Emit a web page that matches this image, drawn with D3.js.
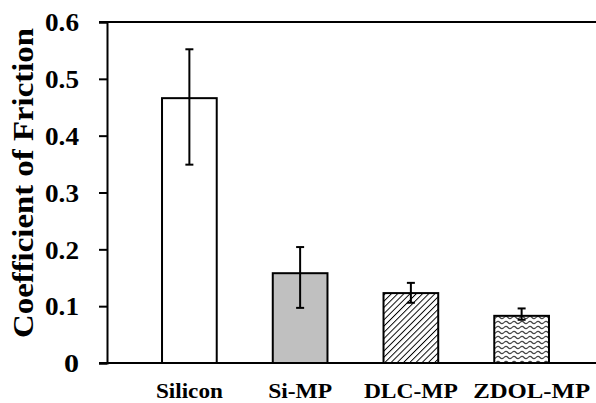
<!DOCTYPE html>
<html><head><meta charset="utf-8">
<script src="https://cdnjs.cloudflare.com/ajax/libs/d3/7.8.5/d3.min.js"></script>
<style>html,body{margin:0;padding:0;background:#fff;}svg{display:block;}</style>
</head><body>
<svg id="c" width="596" height="403"></svg>
<script>
const categories = ["Silicon", "Si-MP", "DLC-MP", "ZDOL-MP"];
const means = [0.466, 0.158, 0.123, 0.083];
const errLow = [0.349, 0.097, 0.106, 0.076];
const errHigh = [0.552, 0.204, 0.141, 0.096];
const yTicks = [0, 0.1, 0.2, 0.3, 0.4, 0.5, 0.6];
const yTickLabels = ["0", "0.1", "0.2", "0.3", "0.4", "0.5", "0.6"];
const fills = ["white", "#c0c0c0", "url(#hatch)", "url(#wave)"];
const yTitle = "Coefficient of Friction";

const svg = d3.select("#c");
const font = "Liberation Serif";

const defs = svg.append("defs");
const hatch = defs.append("pattern").attr("id","hatch").attr("patternUnits","userSpaceOnUse")
  .attr("width",4.4).attr("height",4.4).attr("patternTransform","rotate(45)");
hatch.append("rect").attr("width",4.4).attr("height",4.4).attr("fill","white");
hatch.append("line").attr("x1",0).attr("y1",0).attr("x2",0).attr("y2",4.4)
  .attr("stroke","black").attr("stroke-width",1.9);
const wave = defs.append("pattern").attr("id","wave").attr("patternUnits","userSpaceOnUse")
  .attr("width",8).attr("height",5);
wave.append("rect").attr("width",8).attr("height",5).attr("fill","white");
wave.append("path").attr("d","M0,2.5 Q2,0.3 4,2.5 T8,2.5").attr("fill","none")
  .attr("stroke","#444").attr("stroke-width",1.2);

const y = d3.scaleLinear().domain([0, 0.6]).range([363, 22]);
const x = d3.scaleBand().domain(categories).range([134, 577]).paddingInner(0.506).paddingOuter(0.253);

// frame line at top
svg.append("line").attr("x1",99).attr("x2",596).attr("y1",y(0.6)).attr("y2",y(0.6))
  .attr("stroke","black").attr("stroke-width",2);

// y axis
const yAxis = d3.axisLeft(y).tickValues(yTicks).tickSize(8).tickPadding(20)
  .tickFormat((d,i)=>yTickLabels[i]);
const ga = svg.append("g").attr("transform","translate(107,0)").call(yAxis);
ga.select(".domain").attr("stroke","black").attr("stroke-width",2);
ga.selectAll(".tick line").attr("stroke","black").attr("stroke-width",2);
ga.selectAll(".tick text").attr("font-family",font).attr("font-weight","bold")
  .attr("font-size",25.5).attr("fill","black").attr("dy","0.34em")
  .attr("textLength",(d,i)=>yTickLabels[i].length>1?34:15).attr("lengthAdjust","spacingAndGlyphs");

// bars
svg.selectAll("rect.bar").data(categories).enter().append("rect").attr("class","bar")
  .attr("x", d=>x(d)).attr("width", x.bandwidth())
  .attr("y", (d,i)=>y(means[i])).attr("height",(d,i)=>y(0)-y(means[i]))
  .attr("fill",(d,i)=>fills[i]).attr("stroke","black").attr("stroke-width",2);

// error bars
const eb = svg.append("g").attr("stroke","black").attr("stroke-width",2);
categories.forEach((c,i)=>{
  const cx = x(c)+x.bandwidth()/2;
  eb.append("line").attr("x1",cx).attr("x2",cx).attr("y1",y(errLow[i])).attr("y2",y(errHigh[i]));
  eb.append("line").attr("x1",cx-4).attr("x2",cx+4).attr("y1",y(errLow[i])).attr("y2",y(errLow[i]));
  eb.append("line").attr("x1",cx-4).attr("x2",cx+4).attr("y1",y(errHigh[i])).attr("y2",y(errHigh[i]));
});

// x axis line
svg.append("line").attr("x1",99).attr("x2",596).attr("y1",y(0)).attr("y2",y(0))
  .attr("stroke","black").attr("stroke-width",2);

// category labels
const labW = {"Silicon":67, "Si-MP":64, "DLC-MP":94, "ZDOL-MP":117};
svg.selectAll("text.cat").data(categories).enter().append("text").attr("class","cat")
  .attr("x", d=>x(d)+x.bandwidth()/2 + (d==="ZDOL-MP"?10:0)).attr("y",398).attr("text-anchor","middle")
  .attr("font-family",font).attr("font-weight","bold").attr("font-size",21)
  .attr("textLength", d=>labW[d]).attr("lengthAdjust","spacingAndGlyphs")
  .text(d=>d);

// y title
svg.append("text").attr("transform","translate(33,183) rotate(-90)")
  .attr("text-anchor","middle").attr("font-family",font).attr("font-weight","bold")
  .attr("font-size",29).attr("textLength",310).attr("lengthAdjust","spacingAndGlyphs")
  .text(yTitle);
</script>
</body></html>
